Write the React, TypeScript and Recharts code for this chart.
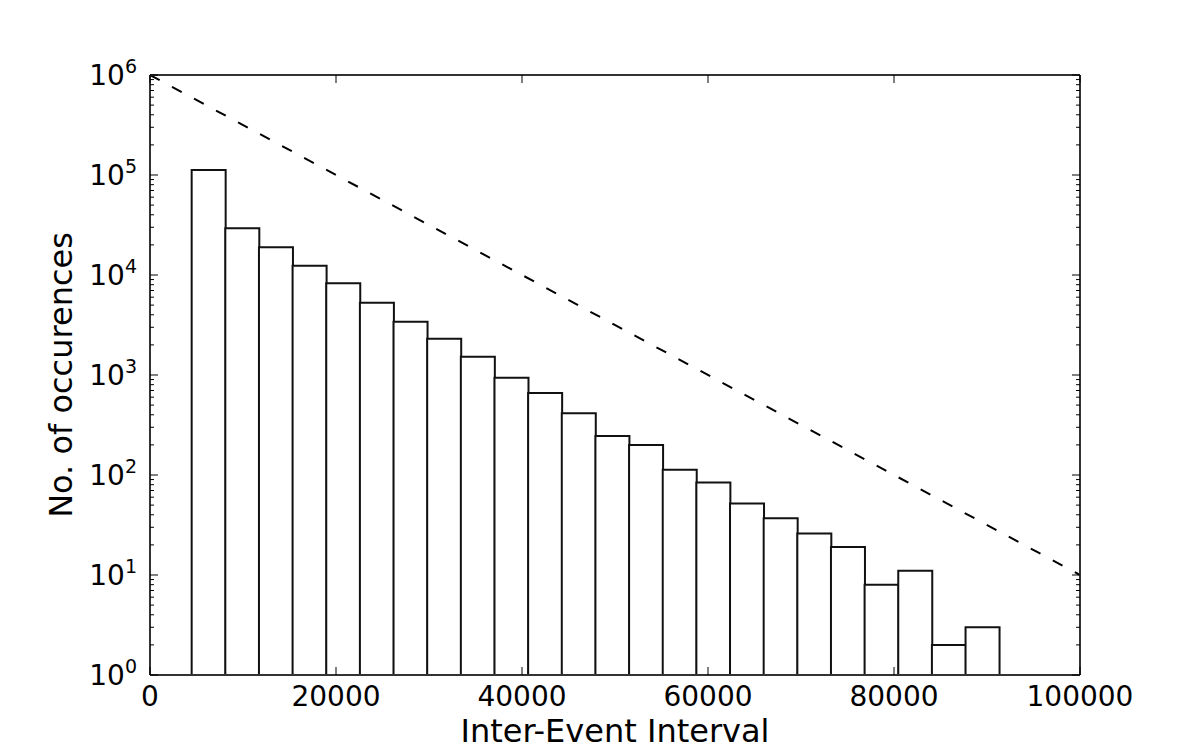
import { ComposedChart, Bar, Line, XAxis, YAxis, Label } from 'recharts';

// histogram of inter-event intervals, log y
const counts = [112000, 29300, 18900, 12400, 8260, 5290, 3410, 2310, 1520, 940, 661, 414, 245, 200, 113, 84, 52, 37, 26, 19, 8, 11, 2, 3];
const firstBinEdge = 4480;
const binWidth = 3618;

const xTicks = [0, 20000, 40000, 60000, 80000, 100000];
const yMajorTicks = [1, 10, 100, 1000, 10000, 100000, 1000000];
const yMinorSteps = [2, 3, 4, 5, 6, 7, 8, 9];

// dashed reference line (exponential decay)
const fitLine = [
  { x: 0, fit: 1000000 },
  { x: 100000, fit: 10 },
];

const histData = counts.map((count, i) => ({ x: firstBinEdge + (i + 0.5) * binWidth, count }));
const yTicks = [
  ...yMajorTicks,
  ...yMajorTicks.slice(0, -1).flatMap((d) => yMinorSteps.map((s) => s * d)),
].sort((a, b) => a - b);

const FONT = "'DejaVu Sans', sans-serif";

const isMajor = (v: number) => {
  const p = Math.pow(10, Math.round(Math.log10(v)));
  return Math.abs(p - v) < 1e-6 * v;
};

function LeftTick({ x, y, payload }: any) {
  const v = payload.value;
  const major = isMajor(v);
  return (
    <g>
      <line x1={x} x2={x + (major ? 8 : 4)} y1={y} y2={y} stroke="#000" strokeWidth={1} />
      {major && (
        <text x={x - 13} y={y + 10} textAnchor="end" fontFamily={FONT} fontSize={28} fill="#000">
          10
          <tspan dy={-12} fontSize={19}>
            {Math.round(Math.log10(v))}
          </tspan>
        </text>
      )}
    </g>
  );
}

// right axis: x is the tick text position = spine x (width 1, mirror off)
function RightTick({ x, y, payload }: any) {
  const major = isMajor(payload.value);
  return <line x1={x} x2={x - (major ? 8 : 4)} y1={y} y2={y} stroke="#000" strokeWidth={1} />;
}

function BottomTick({ x, y, payload }: any) {
  return (
    <g>
      <line x1={x} x2={x} y1={y} y2={y - 8} stroke="#000" strokeWidth={1} />
      <text x={x} y={y + 31} textAnchor="middle" fontFamily={FONT} fontSize={28} fill="#000">
        {payload.value}
      </text>
    </g>
  );
}

function TopTick({ x, y }: any) {
  return <line x1={x} x2={x} y1={y} y2={y + 8} stroke="#000" strokeWidth={1} />;
}

const spine = { stroke: '#333', strokeWidth: 2 };

export default function App() {
  return (
    <div style={{ position: 'absolute', left: 0, top: 0, width: 1200, height: 750, background: '#fff' }}>
      <ComposedChart
        width={1200}
        height={750}
        data={histData}
        margin={{ top: 74, right: 119, bottom: 0, left: 0 }}
        barCategoryGap={0}
        barGap={0}
      >
        <XAxis
          dataKey="x"
          type="number"
          domain={[0, 100000]}
          ticks={xTicks}
          interval={0}
          allowDataOverflow
          height={75}
          tickSize={0}
          tickMargin={0}
          tickLine={false}
          axisLine={spine}
          tick={BottomTick}
        >
          <Label
            content={({ viewBox }: any) => (
              <text
                x={viewBox.x + viewBox.width / 2}
                y={viewBox.y + 67}
                textAnchor="middle"
                fontFamily={FONT}
                fontSize={32}
                fill="#000"
              >
                Inter-Event Interval
              </text>
            )}
          />
        </XAxis>
        <XAxis
          xAxisId="top"
          orientation="top"
          dataKey="x"
          type="number"
          domain={[0, 100000]}
          ticks={xTicks}
          interval={0}
          allowDataOverflow
          height={1}
          tickSize={0}
          tickMargin={0}
          tickLine={false}
          axisLine={spine}
          tick={TopTick}
        />
        <YAxis
          scale="log"
          type="number"
          domain={[1, 1000000]}
          ticks={yTicks}
          interval={0}
          allowDataOverflow
          width={150}
          tickSize={0}
          tickMargin={0}
          tickLine={false}
          axisLine={spine}
          tick={LeftTick}
        >
          <Label
            content={({ viewBox }: any) => {
              const cx = 72;
              const cy = viewBox.y + viewBox.height / 2;
              return (
                <text
                  x={cx}
                  y={cy}
                  transform={`rotate(-90, ${cx}, ${cy})`}
                  textAnchor="middle"
                  fontFamily={FONT}
                  fontSize={32}
                  fill="#000"
                >
                  No. of occurences
                </text>
              );
            }}
          />
        </YAxis>
        <YAxis
          yAxisId="right"
          orientation="right"
          scale="log"
          type="number"
          domain={[1, 1000000]}
          ticks={yTicks}
          interval={0}
          allowDataOverflow
          width={1}
          tickSize={0}
          tickMargin={0}
          tickLine={false}
          axisLine={spine}
          tick={RightTick}
        />
        <Bar dataKey="count" fill="#fff" stroke="#111" strokeWidth={2} isAnimationActive={false} />
        <Line
          xAxisId="top"
          yAxisId="right"
          data={fitLine}
          dataKey="fit"
          stroke="#000"
          strokeWidth={2}
          strokeDasharray="11 14"
          dot={false}
          activeDot={false}
          isAnimationActive={false}
        />
      </ComposedChart>
    </div>
  );
}
